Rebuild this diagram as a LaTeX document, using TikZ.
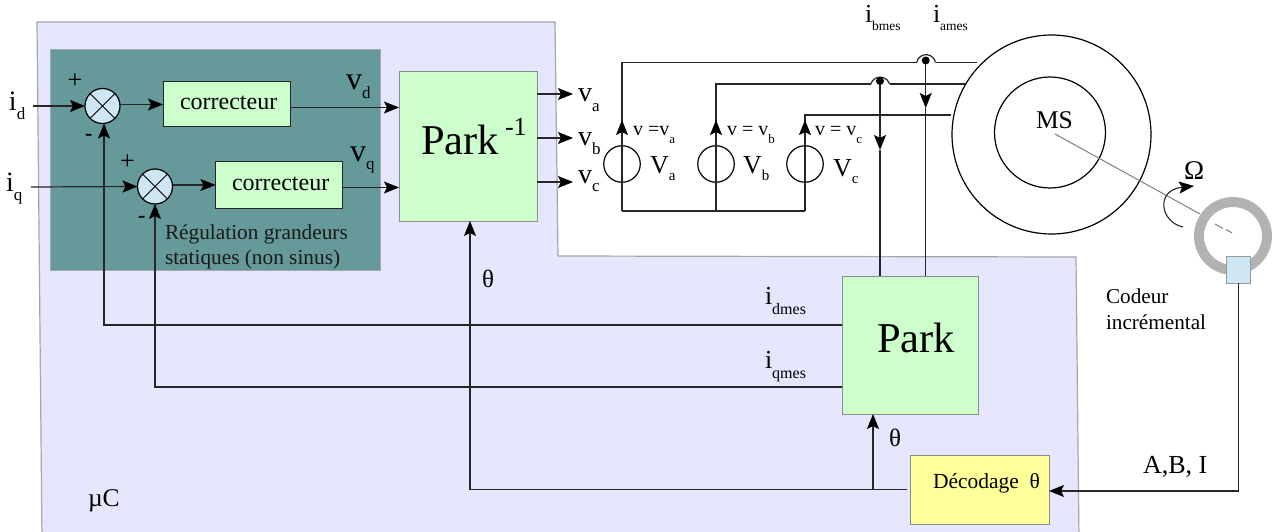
\documentclass[tikz,border=0pt]{standalone}
\usepackage{fontspec}
\setmainfont{Liberation Serif}
\usetikzlibrary{arrows.meta}
\newcommand{\fsz}[1]{\fontsize{#1}{#1}\selectfont}
\newcommand{\lblsub}[5]{{\fsz{#1}#3}\raisebox{-#5pt}{\fsz{#2}#4}}
\definecolor{lav}{HTML}{E6E6FF}
\definecolor{tealbg}{HTML}{669999}
\definecolor{gbox}{HTML}{CCFFCC}
\definecolor{ybox}{HTML}{FFFF99}
\definecolor{bbox}{HTML}{CFE7F5}
\tikzset{
  wire/.style={line width=1.2pt,black!85},
  arr/.style={wire,-{Stealth[length=15pt,width=12pt,inset=3pt,black]}},
  block/.style={draw=black!45,line width=1pt,fill=gbox,inner sep=0pt,outer sep=0pt},
  corr/.style={draw=black!85,line width=1pt,fill=gbox,inner sep=0pt,outer sep=0pt,minimum width=127pt,minimum height=45pt,font=\fsz{24}},
  sumc/.style={circle,draw=black,line width=1.2pt,fill=bbox,minimum size=35pt,inner sep=0pt,outer sep=0pt},
  src/.style={circle,draw=black,line width=1.2pt,minimum size=36.5pt,inner sep=0pt,outer sep=0pt},
  lab/.style={anchor=base west,inner sep=0pt,outer sep=0pt},
  dot/.style={circle,fill=black,minimum size=8pt,inner sep=0pt,outer sep=0pt},
  pt/.style={inner sep=0pt,outer sep=0pt}
}
\begin{document}
\begin{tikzpicture}[x=1pt,y=-1pt]
\useasboundingbox (0,0) rectangle (1272,532);
% microcontroller background
\fill[lav,draw=black!35,line width=1.2pt] (37,22) -- (555,22) -- (558,256) -- (1076,257) -- (1079,540) -- (42,540) -- cycle;
\fill[tealbg,draw=black!35,line width=0.8pt] (50,49) rectangle (380,270);
% blocks
\node[sumc] (s1) at (102.5,106) {};
\node[sumc] (s2) at (155,186.5) {};
\draw[line width=1pt] (s1.45) -- (s1.225) (s1.135) -- (s1.315);
\draw[line width=1pt] (s2.45) -- (s2.225) (s2.135) -- (s2.315);
\node[corr] (c1) at (226.5,104.5) {};
\node[corr,minimum height=46pt] (c2) at (279,185) {};
\node[lab,font=\fsz{24}] (c1t) at (180,110) {correcteur};
\node[lab,font=\fsz{24}] (c2t) at (232,190) {correcteur};
\node[block,minimum width=138pt,minimum height=149pt] (pinv) at (468,146.5) {};
\node[block,minimum width=136pt,minimum height=138pt] (park) at (910,345) {};
\node[block,fill=ybox,minimum width=139pt,minimum height=69pt] (dec) at (979.5,489.5) {};
\node[lab,font=\fsz{42.5}] (pinvt) at (421,155) {Park};
\node[lab,font=\fsz{26}] (pinve) at (505,136) {-1};
\node[lab,font=\fsz{42.5}] (parkt) at (877,352) {Park};
\node[lab,font=\fsz{21.5}] (dect) at (933,488) {Décodage\ \ θ};
% motor
\node[circle,draw=black,line width=1.2pt,minimum size=199pt,inner sep=0pt,outer sep=0pt] (mot) at (1051.5,134.5) {};
\node[circle,draw=black,line width=1.2pt,minimum size=111pt,inner sep=0pt,outer sep=0pt] (rot) at (1050,132.5) {};
\node[lab,font=\fsz{25.5}] (ms) at (1036,129) {MS};
% encoder
\node[circle,draw=black!30,line width=10pt,minimum size=68pt,inner sep=0pt,outer sep=0pt] (ring) at (1233,236) {};
\node[draw=black!40,line width=1pt,fill=bbox,minimum width=24pt,minimum height=27pt,inner sep=0pt,outer sep=0pt] (enc) at (1238,269.5) {};
\coordinate (shA) at (1055,134);
\coordinate (shB) at (1200,214);
\coordinate (shC) at (1215,224);
\coordinate (shD) at (1223,228.5);
\coordinate (shE) at (1226,229.5);
\coordinate (shF) at (1232,233);
\draw[black!50,line width=1pt] (shA) -- (shB) (shC) -- (shD) (shE) -- (shF);
\coordinate (rotA) at (1183,227);
\coordinate (rotB) at (1194,186);
\draw[arr,line width=1.1pt] (rotA) .. controls (1160,222) and (1155,190) .. (rotB);
% input arrows
\coordinate (idin) at (33,106);
\coordinate (iqin) at (31,187);
\draw[arr] (idin) -- (s1.west);
\draw[arr] (iqin) -- (s2.west);
\draw[arr] (s1.east |- c1.west) -- (c1.west);
\draw[arr] (s2.east |- c2.west) -- (c2.west);
\draw[arr] (c1.east |- 0,107.5) -- (pinv.west |- 0,107.5);
\draw[arr] (c2.east |- 0,187.5) -- (pinv.west |- 0,187.5);
% park-1 outputs
\coordinate (oa) at (573,94);
\coordinate (ob) at (573,138);
\coordinate (oc) at (573,182);
\draw[arr] (pinv.east |- oa) -- (oa);
\draw[arr] (pinv.east |- ob) -- (ob);
\draw[arr] (pinv.east |- oc) -- (oc);
% feedback
\coordinate (fd) at (104,325);
\coordinate (fq) at (155,387);
\draw[arr] (park.west |- fd) -- (fd) -- (fd |- s1.south);
\draw[arr] (park.west |- fq) -- (fq) -- (s2.south);
\coordinate (thB) at (470,489.5);
\coordinate (thS) at (906.5,489.5);
\coordinate (thJ) at (873,489.5);
\draw[arr] (thS) -- (thB) -- (thB |- pinv.south);
\draw[arr] (thJ) -- (thJ |- park.south);
% encoder signal
\coordinate (enB) at (1238.5,491);
\draw[arr] (enc.south -| enB) -- (enB) -- (enB -| dec.east);
% sources
\node[src] (va) at (622,164) {};
\node[src] (vb) at (716,164) {};
\node[src] (vc) at (805,164) {};
\coordinate (wa0) at (622,211);
\coordinate (wb0) at (716,211);
\coordinate (wc0) at (805,211);
\coordinate (wa1) at (622,62.5);
\coordinate (wb1) at (716,84);
\coordinate (wc1) at (805,115);
\draw[wire] (wa0) -- (wc0);
% top wires with current sensors
\coordinate (aL) at (916.7,62.5);
\coordinate (aR) at (935.5,62.5);
\coordinate (aE) at (977,62.5);
\coordinate (bL) at (870.7,84);
\coordinate (bR) at (890,84);
\coordinate (bE) at (966,84);
\coordinate (cE) at (951,115);
\draw[wire] (wa0) -- (wa1) -- (aL);
\draw[wire] (aR) -- (aE);
\draw[wire] (wb0) -- (wb1) -- (bL);
\draw[wire] (bR) -- (bE);
\draw[wire] (wc0) -- (wc1) -- (cE);
\draw[wire] (aL) arc[start angle=170,end angle=10,radius=9.5pt];
\draw[wire] (bL) arc[start angle=162,end angle=18,radius=10pt];
\node[dot] (da) at (925.7,60.5) {};
\node[dot] (db) at (880,81) {};
\coordinate (aT) at (925.7,108);
\coordinate (bT) at (880,150);
\draw[arr] (da) -- (aT);
\draw[arr] (db) -- (bT);
\draw[wire] (aT) -- (aT |- park.north);
\draw[wire] (bT) -- (bT |- park.north);
% arrows up on wires
\coordinate (ua) at (622,120);
\coordinate (ub) at (716,120);
\coordinate (uc) at (805,120);
\draw[arr] (va.north) -- (ua);
\draw[arr] (vb.north) -- (ub);
\draw[arr] (vc.north) -- (uc);
% labels
\node[lab] (lid) at (9,111) {\lblsub{28}{17}{i}{d}{9}};
\node[lab] (liq) at (6,192) {\lblsub{28}{17}{i}{q}{9}};
\node[lab] (lvd) at (346,90) {\lblsub{32}{17}{v}{d}{9}};
\node[lab] (lvq) at (350,161) {\lblsub{32}{17}{v}{q}{9}};
\node[lab] (lp1) at (67.5,88.5) {\fsz{26}+};
\node[lab] (lm1) at (85,141) {\fsz{22}\bfseries -};
\node[lab] (lp2) at (120,170) {\fsz{26}+};
\node[lab] (lm2) at (138,222) {\fsz{22}\bfseries -};
\node[lab,font=\fsz{21.3},text=black!90] (lreg1) at (165,239) {Régulation grandeurs};
\node[lab,font=\fsz{21.3},text=black!90] (lreg2) at (165,264) {statiques (non sinus)};
\node[lab] (lva) at (578,102) {\lblsub{28}{17}{v}{a}{10}};
\node[lab] (lvb) at (578,146) {\lblsub{28}{17}{v}{b}{9}};
\node[lab] (lvc) at (578,183) {\lblsub{28}{17}{v}{c}{9}};
\node[lab] (lVa) at (650,173) {\lblsub{26}{15}{V}{a}{7}};
\node[lab] (lVb) at (743,173) {\lblsub{26}{15}{V}{b}{7}};
\node[lab] (lVc) at (833,176) {\lblsub{26}{15}{V}{c}{7}};
\node[lab] (leqa) at (633,136) {\lblsub{20}{13}{v =v}{a}{7}};
\node[lab] (leqb) at (727,136) {\lblsub{20}{13}{v = v}{b}{7}};
\node[lab] (leqc) at (815,136) {\lblsub{20}{13}{v = v}{c}{7}};
\node[lab] (libm) at (865,23) {\lblsub{26}{13.5}{i}{bmes}{8}};
\node[lab] (liam) at (933,23) {\lblsub{26}{13.5}{i}{ames}{8}};
\node[lab] (lidm) at (765,304) {\lblsub{26}{16}{i}{dmes}{10}};
\node[lab] (liqm) at (765,368) {\lblsub{26}{16}{i}{qmes}{10}};
\node[lab,font=\fsz{25}] (lth1) at (482,287) {θ};
\node[lab,font=\fsz{25}] (lth2) at (889,446.5) {θ};
\node[lab,font=\fsz{27}] (lom) at (1184,179) {Ω};
\node[lab,font=\fsz{21.2}] (lcod1) at (1106,303) {Codeur};
\node[lab,font=\fsz{21.2}] (lcod2) at (1106,329) {incrémental};
\node[lab,font=\fsz{26}] (labi) at (1143,473) {A,B, I};
\node[lab,font=\fsz{25.5}] (lmu) at (88,506) {µC};
\end{tikzpicture}
\end{document}
